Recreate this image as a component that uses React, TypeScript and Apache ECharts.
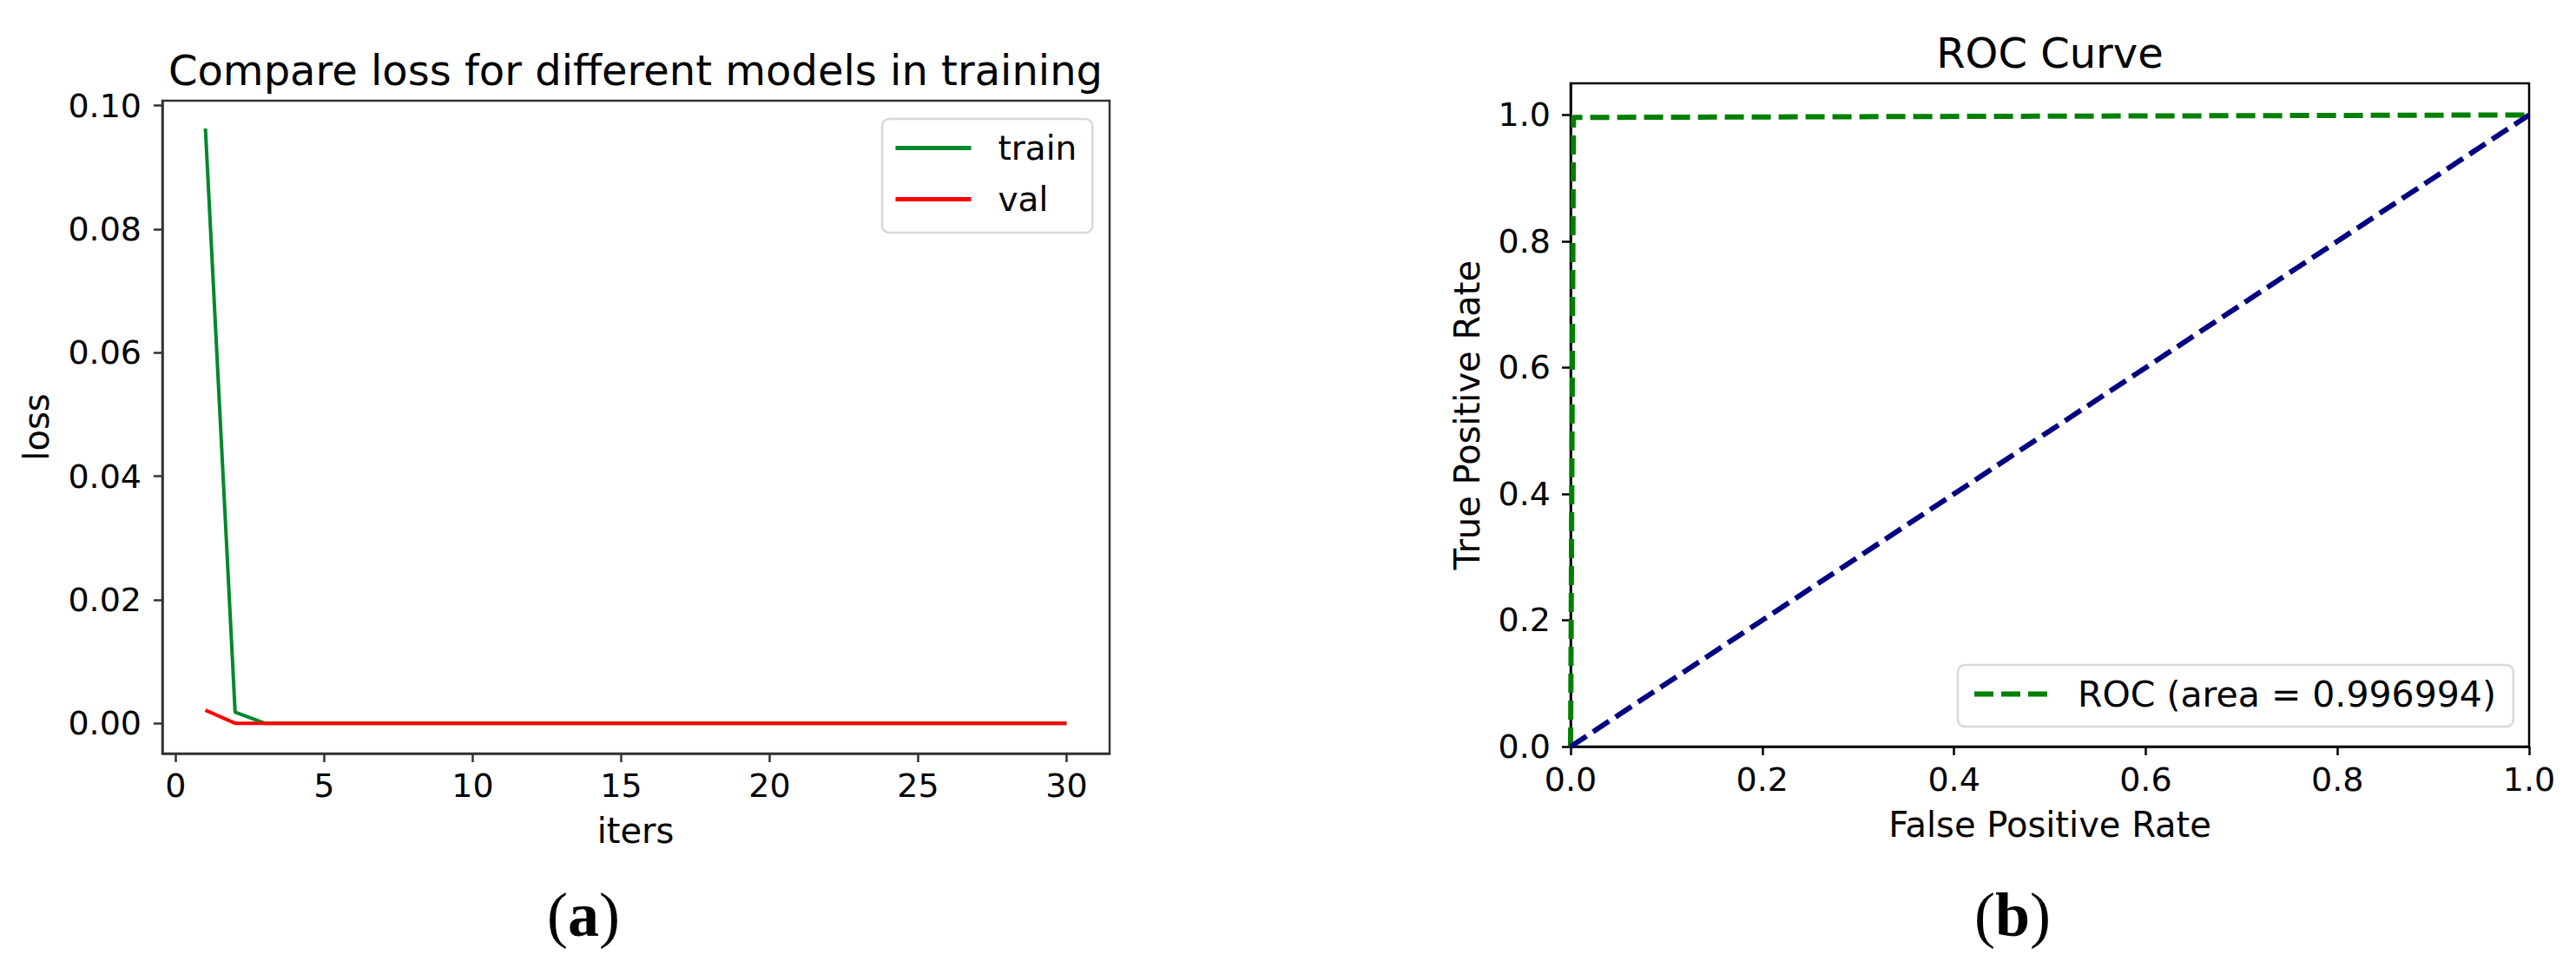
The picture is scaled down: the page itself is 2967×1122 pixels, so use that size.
import React, { useEffect, useRef } from "react";
import * as echarts from "echarts";

// ---- Data (a): training curves ----
const iters = [1, 2, 3, 4, 5, 6, 7, 8, 9, 10, 11, 12, 13, 14, 15, 16, 17, 18, 19, 20, 21, 22, 23, 24, 25, 26, 27, 28, 29, 30];
const trainLoss = [0.0963, 0.0018, 0, 0, 0, 0, 0, 0, 0, 0, 0, 0, 0, 0, 0, 0, 0, 0, 0, 0, 0, 0, 0, 0, 0, 0, 0, 0, 0, 0];
const valLoss = [0.0021, 0, 0, 0, 0, 0, 0, 0, 0, 0, 0, 0, 0, 0, 0, 0, 0, 0, 0, 0, 0, 0, 0, 0, 0, 0, 0, 0, 0, 0];
const iterTicks = [0, 5, 10, 15, 20, 25, 30];
const lossTicks = [0, 0.02, 0.04, 0.06, 0.08, 0.1];

// ---- Data (b): ROC ----
const fpr = [0, 0.003, 1];
const tpr = [0, 0.996, 1];
const chanceFpr = [0, 1];
const chanceTpr = [0, 1];
const rateTicks = [0, 0.2, 0.4, 0.6, 0.8, 1.0];
const rocName = "ROC (area = 0.996994)";

const SANS = "DejaVu Sans";
const SERIF = "Liberation Serif";

export default function App() {
  const ref = useRef<HTMLDivElement>(null);
  useEffect(() => {
    if (!ref.current) return;
    const chart = echarts.init(ref.current, undefined, { renderer: "svg" });
    const tickLabel = (digits: number, margin: number, vals: number[]) => ({
      customValues: vals,
      fontSize: 38,
      fontFamily: SANS,
      color: "#000",
      margin,
      formatter: (v: number) => v.toFixed(digits),
    });
    const axisLine = (c: string) => ({ show: true, onZero: false, lineStyle: { color: c, width: 2.5 } });
    const axisTick = (c: string, vals: number[]) => ({ show: true, inside: false, length: 10, customValues: vals, lineStyle: { color: c, width: 2.5 } });

    const option: any = {
      animation: false,
      backgroundColor: "#fff",
      grid: [
        { left: 187, top: 116, width: 1091, height: 752, show: true, borderColor: "#333", borderWidth: 2.5, backgroundColor: "transparent" },
        { left: 1809, top: 96, width: 1104, height: 764, show: true, borderColor: "#000", borderWidth: 2.5, backgroundColor: "transparent" },
      ],
      xAxis: [
        {
          type: "value", gridIndex: 0, min: -0.45, max: 31.45,
          splitLine: { show: false },
          axisLine: axisLine("#333"), axisTick: axisTick("#333", iterTicks),
          axisLabel: tickLabel(0, 18, iterTicks),
        },
        {
          type: "value", gridIndex: 1, min: 0, max: 1,
          splitLine: { show: false },
          axisLine: axisLine("#000"), axisTick: axisTick("#000", rateTicks),
          axisLabel: tickLabel(1, 19, rateTicks),
        },
      ],
      yAxis: [
        {
          type: "value", gridIndex: 0, min: -0.0049, max: 0.1008,
          splitLine: { show: false },
          axisLine: axisLine("#333"), axisTick: axisTick("#333", lossTicks),
          axisLabel: tickLabel(2, 24, lossTicks),
        },
        {
          type: "value", gridIndex: 1, min: 0, max: 1.05,
          splitLine: { show: false },
          axisLine: axisLine("#000"), axisTick: axisTick("#000", rateTicks),
          axisLabel: tickLabel(1, 23, rateTicks),
        },
      ],
      legend: [
        {
          data: ["train", "val"],
          orient: "vertical",
          left: 1016, top: 137,
          itemWidth: 87, itemHeight: 14, itemGap: 20,
          padding: [14, 18, 19, 13],
          backgroundColor: "#fff",
          borderColor: "#d8d8d8", borderWidth: 2.5, borderRadius: 8,
          itemStyle: { opacity: 0 },
          lineStyle: { width: 5 },
          textStyle: { fontSize: 39, fontFamily: SANS, color: "#000", padding: [0, 0, 0, 26] },
        },
        {
          data: [rocName],
          orient: "vertical",
          left: 2255, top: 766,
          itemWidth: 85, itemHeight: 14,
          padding: [13, 20, 17, 16],
          backgroundColor: "#fff",
          borderColor: "#d8d8d8", borderWidth: 2.5, borderRadius: 8,
          itemStyle: { opacity: 0 },
          lineStyle: { type: [22, 9], width: 6 },
          textStyle: { fontSize: 41, fontFamily: SANS, color: "#000", padding: [0, 0, 0, 29] },
        },
      ],
      series: [
        {
          name: "train", type: "line", xAxisIndex: 0, yAxisIndex: 0,
          data: iters.map((x, i) => [x, trainLoss[i]]),
          symbol: "none", showSymbol: false,
          lineStyle: { color: "#00882a", width: 4 }, itemStyle: { color: "#00882a" },
        },
        {
          name: "val", type: "line", xAxisIndex: 0, yAxisIndex: 0,
          data: iters.map((x, i) => [x, valLoss[i]]),
          symbol: "none", showSymbol: false,
          lineStyle: { color: "#ff0000", width: 4 }, itemStyle: { color: "#ff0000" },
        },
        {
          name: rocName, type: "line", xAxisIndex: 1, yAxisIndex: 1,
          data: fpr.map((x, i) => [x, tpr[i]]),
          symbol: "none", showSymbol: false,
          lineStyle: { color: "#008000", width: 6, type: [22, 9] }, itemStyle: { color: "#008000" },
        },
        {
          name: "chance", type: "line", xAxisIndex: 1, yAxisIndex: 1,
          data: chanceFpr.map((x, i) => [x, chanceTpr[i]]),
          symbol: "none", showSymbol: false,
          lineStyle: { color: "#000080", width: 6, type: [22, 9] }, itemStyle: { color: "#000080" },
        },
      ],
      graphic: [
        { type: "text", x: 732, y: 81, style: { text: "Compare loss for different models in training", font: `48px "${SANS}"`, fill: "#000", align: "center", verticalAlign: "middle" } },
        { type: "text", x: 2361, y: 61, style: { text: "ROC Curve", font: `48px "${SANS}"`, fill: "#000", align: "center", verticalAlign: "middle" } },
        { type: "text", x: 732, y: 957, style: { text: "iters", font: `40px "${SANS}"`, fill: "#000", align: "center", verticalAlign: "middle" } },
        { type: "text", x: 2361, y: 950, style: { text: "False Positive Rate", font: `40px "${SANS}"`, fill: "#000", align: "center", verticalAlign: "middle" } },
        { type: "text", x: 42, y: 492, rotation: Math.PI / 2, style: { text: "loss", font: `40px "${SANS}"`, fill: "#000", align: "center", verticalAlign: "middle" } },
        { type: "text", x: 1690, y: 478, rotation: Math.PI / 2, style: { text: "True Positive Rate", font: `40px "${SANS}"`, fill: "#000", align: "center", verticalAlign: "middle" } },
        {
          type: "text", x: 672, y: 1054,
          style: {
            text: "{p|(}{b|a}{p|)}", align: "center", verticalAlign: "middle", fill: "#000",
            rich: { p: { fontSize: 72, fontFamily: SERIF }, b: { fontSize: 72, fontFamily: SERIF, fontWeight: "bold" } },
          },
        },
        {
          type: "text", x: 2318, y: 1054,
          style: {
            text: "{p|(}{b|b}{p|)}", align: "center", verticalAlign: "middle", fill: "#000",
            rich: { p: { fontSize: 72, fontFamily: SERIF }, b: { fontSize: 72, fontFamily: SERIF, fontWeight: "bold" } },
          },
        },
      ],
    };
    chart.setOption(option);
    return () => chart.dispose();
  }, []);
  return <div ref={ref} style={{ position: "fixed", left: 0, top: 0, width: 2967, height: 1122, background: "#fff" }} />;
}
